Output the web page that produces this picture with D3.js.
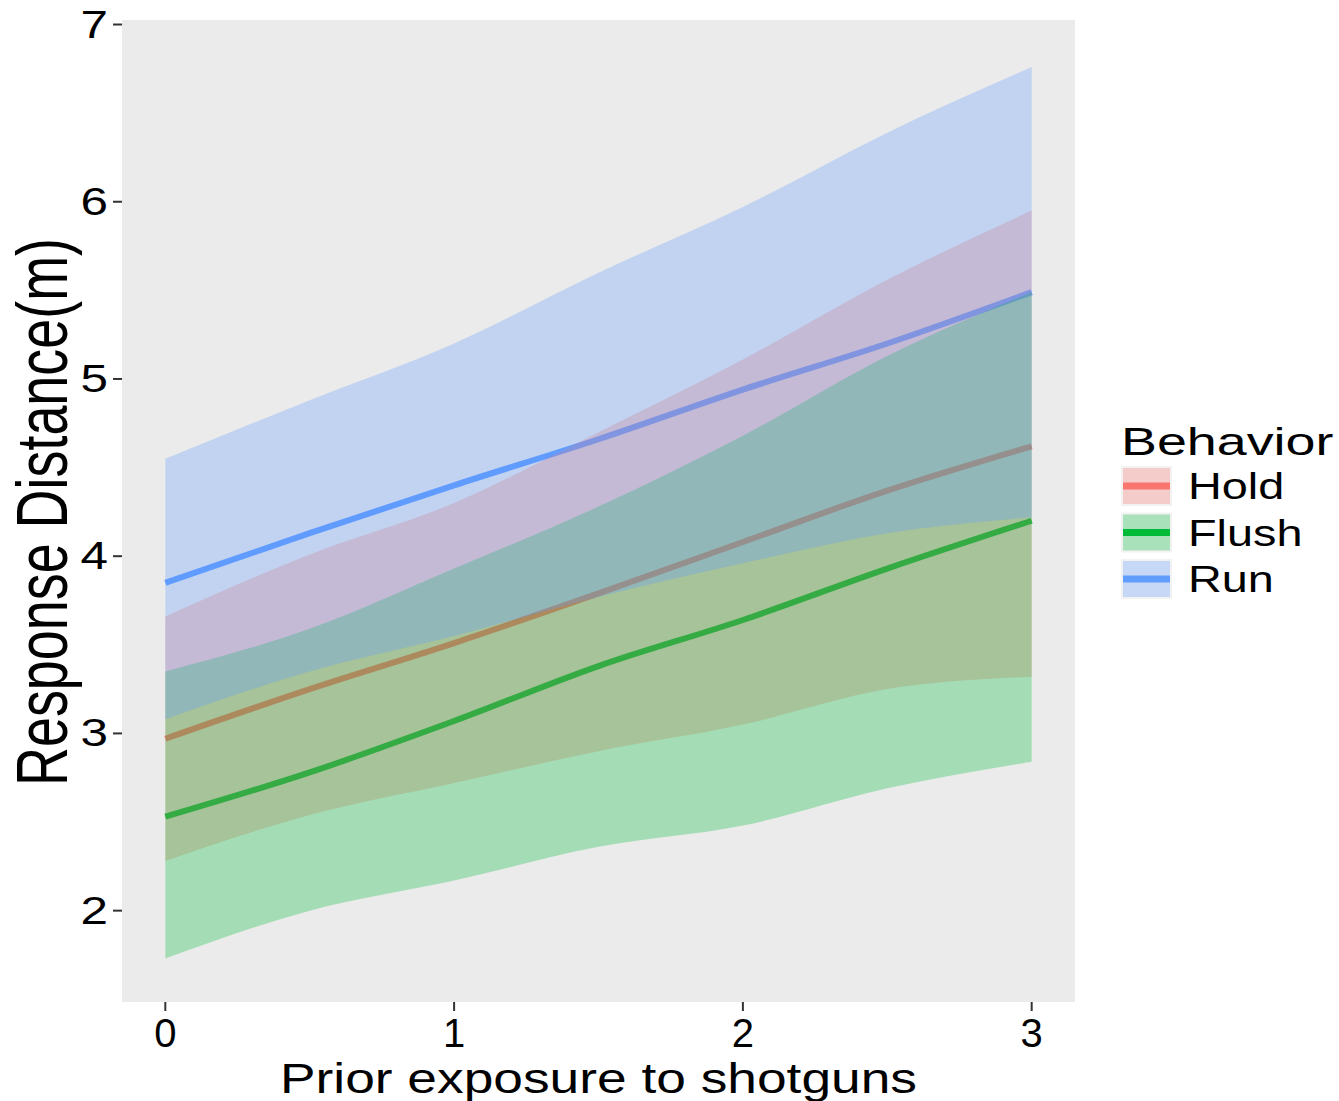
<!DOCTYPE html>
<html>
<head>
<meta charset="utf-8">
<script src="https://cdn.jsdelivr.net/npm/d3@7"></script>
<style>
  html, body { margin: 0; padding: 0; background: #ffffff; }
  text { font-family: "Liberation Sans", Arial, sans-serif; fill: #000; }
</style>
</head>
<body>
<svg id="chart" width="1339" height="1101"></svg>
<script>
// Prior exposure (x) at which the fitted response and its band are given
const exposure = [0, 0.5, 1, 1.5, 2, 2.5, 3];

// Behaviour groups, in legend order
const behaviors = ["Hold", "Flush", "Run"];
const behaviorColors = ["#F8766D", "#00BA38", "#619CFF"];

// Fitted response distance (m)
const holdFit  = [2.97, 3.25, 3.51, 3.79, 4.08, 4.37, 4.62];
const flushFit = [2.53, 2.78, 3.07, 3.38, 3.64, 3.93, 4.20];
const runFit   = [3.85, 4.13, 4.40, 4.66, 4.94, 5.20, 5.49];

// Lower / upper confidence limits
const holdLower  = [2.28, 2.54, 2.72, 2.90, 3.05, 3.25, 3.32];
const holdUpper  = [3.66, 4.01, 4.30, 4.70, 5.11, 5.56, 5.95];
const flushLower = [1.73, 2.00, 2.17, 2.36, 2.48, 2.69, 2.84];
const flushUpper = [3.35, 3.59, 3.93, 4.28, 4.68, 5.13, 5.49];
const runLower   = [3.08, 3.35, 3.55, 3.77, 3.96, 4.13, 4.22];
const runUpper   = [4.55, 4.88, 5.20, 5.60, 5.97, 6.39, 6.76];

// Axis ticks
const xTicks = [0, 1, 2, 3];
const yTicks = [2, 3, 4, 5, 6, 7];

const fits   = [holdFit, flushFit, runFit];
const lowers = [holdLower, flushLower, runLower];
const uppers = [holdUpper, flushUpper, runUpper];

const series = behaviors.map((name, i) => ({
  name,
  color: behaviorColors[i],
  points: exposure.map((x, j) => ({ x, fit: fits[i][j], lo: lowers[i][j], hi: uppers[i][j] }))
}));

const svg = d3.select("#chart");
const panel = { left: 122, right: 1075, top: 20, bottom: 1002 };

const x = d3.scaleLinear().domain([-0.15, 3.15]).range([panel.left, panel.right]);
const y = d3.scaleLinear().domain([1.4845, 7.0255]).range([panel.bottom, panel.top]);

// Panel background
svg.append("rect")
  .attr("x", panel.left).attr("y", panel.top)
  .attr("width", panel.right - panel.left)
  .attr("height", panel.bottom - panel.top)
  .attr("fill", "#EBEBEB");

const plot = svg.append("g");

// Fitted lines are drawn first, the translucent bands go over them
const line = d3.line().curve(d3.curveMonotoneX).x(d => x(d.x)).y(d => y(d.fit));
plot.selectAll("path.fit")
  .data(series)
  .join("path")
  .attr("class", "fit")
  .attr("d", d => line(d.points))
  .attr("fill", "none")
  .attr("stroke", d => d.color)
  .attr("stroke-width", 6);

const band = d3.area().curve(d3.curveMonotoneX).x(d => x(d.x)).y0(d => y(d.lo)).y1(d => y(d.hi));
plot.selectAll("path.band")
  .data(series)
  .join("path")
  .attr("class", "band")
  .attr("d", d => band(d.points))
  .attr("fill", d => d.color)
  .attr("fill-opacity", 0.3);

// Y axis
const yAxis = svg.append("g");
yAxis.selectAll("line")
  .data(yTicks)
  .join("line")
  .attr("x1", panel.left - 9).attr("x2", panel.left)
  .attr("y1", d => y(d)).attr("y2", d => y(d))
  .attr("stroke", "#333").attr("stroke-width", 2);
yAxis.selectAll("g.lab")
  .data(yTicks)
  .join("g")
  .attr("class", "lab")
  .attr("transform", d => `translate(108,${y(d) + 13}) scale(1.3,1)`)
  .append("text")
  .attr("text-anchor", "end")
  .attr("font-size", 38)
  .text(d => d);

// X axis
const xAxis = svg.append("g");
xAxis.selectAll("line")
  .data(xTicks)
  .join("line")
  .attr("x1", d => x(d)).attr("x2", d => x(d))
  .attr("y1", panel.bottom).attr("y2", panel.bottom + 9)
  .attr("stroke", "#333").attr("stroke-width", 2);
xAxis.selectAll("text")
  .data(xTicks)
  .join("text")
  .attr("x", d => x(d))
  .attr("y", 1047)
  .attr("text-anchor", "middle")
  .attr("font-size", 40)
  .text(d => d);

// Axis titles
svg.append("text")
  .attr("x", 280).attr("y", 1093)
  .attr("font-size", 43)
  .attr("textLength", 637)
  .attr("lengthAdjust", "spacingAndGlyphs")
  .text("Prior exposure to shotguns");

svg.append("g")
  .attr("transform", "translate(67,512) rotate(-90) scale(1,1.35)")
  .append("text")
  .attr("x", -274).attr("y", 0)
  .attr("font-size", 54)
  .attr("textLength", 548)
  .attr("lengthAdjust", "spacingAndGlyphs")
  .text("Response Distance(m)");

// Legend
const legend = svg.append("g");
legend.append("g")
  .attr("transform", "translate(1121,455) scale(1.38,1)")
  .append("text")
  .attr("font-size", 39)
  .text("Behavior");

const keyTop = 466, keyStep = 46.5, keyW = 51, keyH = 40;
const keys = legend.selectAll("g.key")
  .data(series)
  .join("g")
  .attr("class", "key")
  .attr("transform", (d, i) => `translate(1121,${keyTop + i * keyStep})`);
keys.append("rect")
  .attr("width", keyW).attr("height", keyH)
  .attr("fill", "#F2F2F2");
keys.append("rect")
  .attr("x", 2).attr("y", 2)
  .attr("width", keyW - 4).attr("height", keyH - 4)
  .attr("fill", d => d.color)
  .attr("fill-opacity", 0.3);
keys.append("line")
  .attr("x1", 2).attr("x2", keyW - 2)
  .attr("y1", keyH / 2).attr("y2", keyH / 2)
  .attr("stroke", d => d.color)
  .attr("stroke-width", 7);
keys.append("g")
  .attr("transform", `translate(67,${keyH / 2 + 13}) scale(1.3,1)`)
  .append("text")
  .attr("font-size", 36)
  .text(d => d.name);
</script>
</body>
</html>
